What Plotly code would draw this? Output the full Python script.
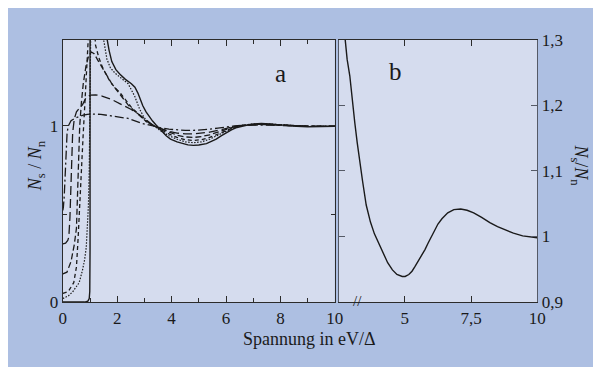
import plotly.graph_objects as go

# the page has an 8px body margin; the figure fills the rest of the 601x367 window
OFF = 8
W, H = 601 - OFF, 367 - OFF

# ---------------- data ----------------
# panel a, solid curve
solid_v = [0, 0.8, 0.92, 0.97, 0.99, 1.0, 1.0, 1.3, 1.55, 1.62, 1.7, 1.8, 1.95, 2.1, 2.3, 2.52, 2.65, 2.76, 2.85,
           2.94, 3.06, 3.18, 3.3, 3.42, 3.6, 3.8, 3.96, 4.2, 4.43, 4.6, 4.8, 5.0, 5.28, 5.45, 5.64, 5.82, 6.0, 6.2,
           6.36, 6.6, 6.83, 7.05, 7.3, 7.6, 7.9, 8.2, 8.6, 9.0, 9.5, 10]
solid_n = [0, 0, 0.005, 0.02, 0.06, 0.3, 1.7, 1.7, 1.56, 1.49, 1.43, 1.366, 1.32, 1.294, 1.265, 1.24, 1.22, 1.187,
           1.15, 1.115, 1.08, 1.052, 1.028, 1.007, 0.975, 0.945, 0.926, 0.91, 0.90, 0.893, 0.89, 0.892, 0.90, 0.912,
           0.926, 0.944, 0.962, 0.978, 0.99, 1.0, 1.007, 1.012, 1.014, 1.012, 1.007, 1.003, 0.998, 0.996, 0.997, 0.998]

# panel a, dotted curve
dot_v = [0, 0.2, 0.36, 0.5, 0.6, 0.72, 0.8, 0.86, 0.9, 0.94, 0.97, 0.99, 1.01, 1.03, 1.45, 1.5, 1.62, 1.75, 1.92,
         2.15, 2.4, 2.64, 2.82, 2.98, 3.15, 3.36, 3.6, 3.9, 4.2, 4.5, 4.8, 5.1, 5.4, 5.7, 6.0, 6.3, 6.6, 7.0, 7.4,
         7.8, 8.2, 8.6, 9.0, 9.5, 10]
dot_n = [0.02, 0.035, 0.058, 0.085, 0.11, 0.18, 0.24, 0.31, 0.4, 0.55, 0.75, 0.96, 1.3, 1.6, 1.6, 1.49, 1.38, 1.33,
         1.30, 1.27, 1.24, 1.17, 1.097, 1.05, 1.02, 1.0, 0.972, 0.945, 0.925, 0.91, 0.905, 0.91, 0.925, 0.948, 0.97,
         0.99, 1.003, 1.012, 1.013, 1.009, 1.004, 1.0, 0.998, 0.998, 0.998]

# panel a, short dashes
sd_v = [0, 0.2, 0.4, 0.5, 0.56, 0.62, 0.68, 0.75, 0.8, 0.86, 0.92, 0.97, 1.15, 1.2, 1.32, 1.44, 1.6, 1.75, 1.9, 2.1,
        2.3, 2.5, 2.7, 2.9, 3.1, 3.36, 3.6, 3.9, 4.2, 4.5, 4.8, 5.1, 5.4, 5.7, 6.0, 6.3, 6.6, 7.0, 7.4, 7.8, 8.2,
        8.6, 9.0, 9.5, 10]
sd_n = [0.05, 0.06, 0.11, 0.2, 0.36, 0.58, 0.8, 0.96, 1.1, 1.28, 1.45, 1.6, 1.6, 1.46, 1.39, 1.34, 1.29, 1.25, 1.22,
        1.19, 1.15, 1.11, 1.08, 1.05, 1.02, 1.0, 0.98, 0.955, 0.935, 0.922, 0.918, 0.922, 0.935, 0.955, 0.975,
        0.992, 1.003, 1.01, 1.012, 1.009, 1.004, 1.0, 0.998, 0.998, 0.998]

# panel a, medium dashes
md_v = [0, 0.15, 0.3, 0.42, 0.5, 0.54, 0.58, 0.62, 0.68, 0.75, 0.85, 0.95, 1.05, 1.15, 1.3, 1.45, 1.6, 1.8, 2.0,
        2.2, 2.4, 2.6, 2.8, 3.0, 3.2, 3.36, 3.6, 3.9, 4.2, 4.5, 4.8, 5.1, 5.4, 5.7, 6.0, 6.3, 6.6, 7.0, 7.4, 7.8,
        8.2, 8.6, 9.0, 10]
md_n = [0.16, 0.17, 0.23, 0.326, 0.42, 0.6, 0.85, 1.0, 1.13, 1.24, 1.34, 1.4, 1.42, 1.41, 1.37, 1.33, 1.29, 1.24,
        1.2, 1.16, 1.12, 1.09, 1.06, 1.035, 1.015, 1.0, 0.985, 0.965, 0.948, 0.938, 0.935, 0.94, 0.95, 0.965, 0.98,
        0.995, 1.003, 1.009, 1.01, 1.008, 1.004, 1.0, 0.998, 0.998]

# panel a, long dashes
ld_v = [0, 0.1, 0.18, 0.22, 0.26, 0.3, 0.33, 0.36, 0.42, 0.5, 0.6, 0.72, 0.85, 1.0, 1.2, 1.44, 1.8, 2.0, 2.27, 2.5,
        2.76, 3.0, 3.12, 3.36, 3.6, 3.9, 4.2, 4.5, 4.8, 5.1, 5.4, 5.7, 6.0, 6.3, 6.6, 7.0, 7.4, 7.8, 8.2, 8.6, 9.0,
        10]
ld_n = [0.33, 0.335, 0.35, 0.37, 0.48, 0.65, 0.8, 0.96, 1.04, 1.08, 1.1, 1.12, 1.16, 1.175, 1.177, 1.17, 1.15,
        1.135, 1.115, 1.095, 1.07, 1.04, 1.025, 1.0, 0.985, 0.97, 0.96, 0.955, 0.955, 0.958, 0.965, 0.975, 0.987,
        0.997, 1.004, 1.008, 1.009, 1.007, 1.003, 1.0, 0.999, 0.998]

# panel a, dash-dot
dd_v = [0, 0.02, 0.05, 0.08, 0.12, 0.155, 0.2, 0.3, 0.45, 0.6, 0.75, 0.9, 1.1, 1.4, 1.7, 2.0, 2.4, 2.88, 3.1, 3.3,
        3.6, 3.9, 4.2, 4.5, 4.8, 5.1, 5.4, 5.7, 6.0, 6.3, 6.6, 7.0, 7.4, 7.8, 8.2, 8.6, 10]
dd_n = [0.52, 0.54, 0.6, 0.7, 0.85, 0.96, 1.0, 1.03, 1.045, 1.055, 1.062, 1.066, 1.068, 1.066, 1.06, 1.053, 1.043,
        1.016, 1.007, 1.0, 0.99, 0.982, 0.977, 0.975, 0.975, 0.977, 0.982, 0.988, 0.995, 1.0, 1.004, 1.006, 1.006,
        1.004, 1.002, 1.0, 0.999]

# panel b, solid curve
b_v = [2.6, 2.73, 2.82, 2.92, 3.0, 3.11, 3.2, 3.29, 3.4, 3.54, 3.7, 3.85, 4.0, 4.16, 4.35, 4.53, 4.7, 4.9, 5.01,
       5.15, 5.27, 5.38, 5.5, 5.64, 5.76, 5.88, 6.0, 6.12, 6.25, 6.4, 6.62, 6.85, 7.11, 7.35, 7.6, 7.9, 8.21, 8.5,
       8.83, 9.1, 9.45, 9.75, 10]
b_n = [1.36, 1.30, 1.27, 1.245, 1.21, 1.173, 1.143, 1.115, 1.085, 1.048, 1.022, 1.004, 0.99, 0.975, 0.96, 0.949,
       0.942, 0.939, 0.939, 0.942, 0.947, 0.954, 0.962, 0.971, 0.98, 0.99, 1.0, 1.009, 1.019, 1.027, 1.036, 1.041,
       1.042, 1.04, 1.036, 1.029, 1.021, 1.015, 1.009, 1.005, 1.001, 0.999, 0.998]

# tick labels
a_xticks = [0, 2, 4, 6, 8, 10]
a_yticks = [0, 1]
b_xticks = [5, 7.5, 10]
b_xtext = ["5", "7,5", "10"]
b_yticks = [0.9, 1.0, 1.1, 1.2, 1.3]
b_ytext = ["0,9", "1", "1,1", "1,2", "1,3"]

# ---------------- styling ----------------
SERIF = "Liberation Serif"
OUTER = "#adbfe2"
INNER = "#d5dcee"
INK = "#1a1a1a"
AX = "#2b2b2b"
AXB = "#555a66"

fig = go.Figure()

def add(v, n, dash, width=1.3, xa="x", ya="y"):
    fig.add_trace(go.Scatter(x=v, y=n, mode="lines", xaxis=xa, yaxis=ya,
                             line=dict(color=INK, width=width, dash=dash),
                             showlegend=False, hoverinfo="skip"))

add(dd_v, dd_n, "9px,3px,2px,3px")
add(ld_v, ld_n, "9px,4px")
add(md_v, md_n, "6px,3px")
add(sd_v, sd_n, "4px,3px")
add(dot_v, dot_n, "1.5px,1.5px", width=1.2)
add(solid_v, solid_n, "solid", width=1.4)
add(b_v, b_n, "solid", width=1.4, xa="x2", ya="y2")

# positions given in window pixels, converted to figure paper coordinates
def px_x(p):
    return (p - OFF) / W

def px_y(p):
    return 1 - (p - OFF) / H

tickfont = dict(family=SERIF, size=17, color=INK)

def axis_style(color):
    return dict(showgrid=False, zeroline=False, showline=True, linecolor=color, linewidth=1.3,
                ticks="inside", ticklen=6, tickwidth=1.1, tickcolor=color, mirror="ticks", tickfont=tickfont)

fig.update_layout(
    width=W, height=H,
    margin=dict(l=0, r=0, t=0, b=0),
    paper_bgcolor=OUTER,
    plot_bgcolor=INNER,
    xaxis=dict(domain=[px_x(60), px_x(338)], range=[0, 10], anchor="y",
               tickvals=a_xticks, ticktext=[str(t) for t in a_xticks],
               minor=dict(tickvals=[1, 3, 5, 7, 9], ticks="inside", ticklen=4, tickcolor=AX), **axis_style(AX)),
    yaxis=dict(domain=[px_y(309), px_y(32)], range=[0, 1.49], anchor="x",
               tickvals=a_yticks, ticktext=["0", "1"],
               minor=dict(tickvals=[0.5], ticks="inside", ticklen=4, tickcolor=AX), **axis_style(AX)),
    xaxis2=dict(domain=[px_x(342), px_x(545)], range=[2.5, 10], anchor="y2",
                tickvals=b_xticks, ticktext=b_xtext, **axis_style(AX)),
    yaxis2=dict(domain=[px_y(309), px_y(32)], range=[0.9, 1.3], anchor="x2", side="right",
                tickvals=b_yticks, ticktext=b_ytext, **axis_style(AXB)),
)

def ann(text, x, y, size=17, angle=0, **kw):
    fig.add_annotation(text=text, x=px_x(x), y=px_y(y), xref="paper", yref="paper",
                       showarrow=False, textangle=angle, xanchor="center", yanchor="middle",
                       font=dict(family=SERIF, size=size, color=INK), **kw)

ann("a", 283, 68, size=25)
ann("b", 400, 66, size=25)
ann("Spannung in eV/Δ", 312, 348, size=18)
ann("<i>N</i><sub>s</sub> / <i>N</i><sub>n</sub>", 33, 165, size=18, angle=-90)
ann("<i>N</i><sub>s</sub>/<i>N</i><sub>n</sub>", 588, 165, size=18, angle=90)
ann("//", 361, 308, size=15)

fig.write_html("out.html")
